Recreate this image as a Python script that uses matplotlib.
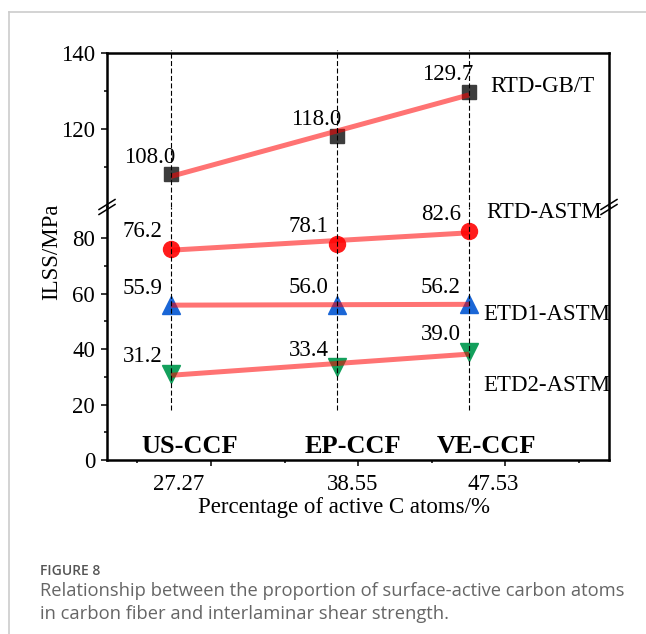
import matplotlib.pyplot as plt
import numpy as np
from matplotlib.lines import Line2D

# data
pct = [27.27, 38.55, 47.53]
samples = ['US-CCF', 'EP-CCF', 'VE-CCF']
rtd_gbt = [108.0, 118.0, 129.7]
rtd_astm = [76.2, 78.1, 82.6]
etd1_astm = [55.9, 56.0, 56.2]
etd2_astm = [31.2, 33.4, 39.0]
names = ['RTD-GB/T', 'RTD-ASTM', 'ETD1-ASTM', 'ETD2-ASTM']

plt.rcParams['font.family'] = 'Liberation Serif'

W, H = 646, 634
fig = plt.figure(figsize=(W / 100, H / 100), dpi=100)


def fx(px):
    return px / W


def fy(py):
    return 1 - py / H


# broken y axis: two stacked axes, no gap
x0, x1 = 107, 609
y_top, y_brk, y_bot = 53, 207, 460
ax_t = fig.add_axes([fx(x0), fy(y_brk), (x1 - x0) / W, (y_brk - y_top) / H])
ax_b = fig.add_axes([fx(x0), fy(y_bot), (x1 - x0) / W, (y_bot - y_brk) / H])

for ax in (ax_t, ax_b):
    ax.set_xlim(22.93, 57.05)
    for s in ax.spines.values():
        s.set_linewidth(1.8)
    ax.tick_params(which='both', direction='out', width=1.1, labelsize=16.5, pad=4)
    ax.tick_params(which='major', length=4.5)
    ax.tick_params(which='minor', length=2.5)
    ax.tick_params(axis='y', which='both', right=False)

ax_t.set_ylim(99.3, 140)
ax_t.spines['bottom'].set_visible(False)
ax_t.set_yticks([120, 140])
ax_t.set_yticks([110, 130], minor=True)
ax_t.tick_params(axis='x', which='both', bottom=False, top=False, labelbottom=False)

ax_b.set_ylim(0, 91.3)
ax_b.spines['top'].set_visible(False)
ax_b.set_yticks([0, 20, 40, 60, 80])
ax_b.set_yticks([10, 30, 50, 70], minor=True)
ax_b.set_xticks([30, 40, 50])
ax_b.set_xticks([25, 35, 45, 55], minor=True)
ax_b.set_xticklabels([])
ax_b.tick_params(axis='x', which='both', top=False)

# series styles: values, marker, colour, size, axes, value-label dx, name offset
series = [
    (rtd_gbt, 's', '#3d3d3d', 10, ax_t, 4, (21, 5)),
    (rtd_astm, 'o', '#ff1c1c', 11.5, ax_b, -8, (17, 19)),
    (etd1_astm, '^', '#1a66d6', 13.5, ax_b, -8, (14, -10)),
    (etd2_astm, 'v', '#13a05c', 13.5, ax_b, -8, (14, -34)),
]

for (vals, mk, col, ms, ax, ldx, noff), name in zip(series, names):
    ax.plot(pct, vals, ls='none', marker=mk, ms=ms, color=col, mec=col, zorder=3)
    coef = np.polyfit(pct, vals, 1)
    xs = np.array([pct[0], pct[-1]])
    ax.plot(xs, np.polyval(coef, xs), color='red', alpha=0.55, lw=3.6,
            solid_capstyle='butt', zorder=4)
    for p, v in zip(pct, vals):
        ax.annotate(f'{v:.1f}', (p, v), xytext=(ldx, 17), textcoords='offset pixels',
                    ha='right', va='center', fontsize=16.5, zorder=6)
    ax.annotate(name, (pct[-1], vals[-1]), xytext=noff, textcoords='offset pixels',
                ha='left', va='center', fontsize=16.5, zorder=6)

# dashed guide lines at each sample
dash = (0, (4.5, 2.2))
for p in pct:
    ax_t.plot([p, p], [99.3, 140.8], color='k', lw=0.8, ls=dash, zorder=5, clip_on=False)
    ax_b.plot([p, p], [18, 91.3], color='k', lw=0.8, ls=dash, zorder=5)

# sample names and percentage labels
name_shift = [1.29, 1.09, 1.22]
pct_shift = [0.5, 1.05, 1.65]
for p, s, ns, ps in zip(pct, samples, name_shift, pct_shift):
    ax_b.text(p + ns, 4.8, s, ha='center', va='center', fontsize=19, fontweight='bold')
    ax_b.annotate(f'{p:.2f}', (p + ps, 0), xycoords=('data', 'axes fraction'),
                  xytext=(0, -25), textcoords='offset pixels',
                  ha='center', va='center', fontsize=16.5)

fig.text(fx(344), fy(507), 'Percentage of active C atoms/%', ha='center', va='center',
         fontsize=16.5)
fig.text(fx(52), fy(252), 'ILSS/MPa', rotation=90, ha='center', va='center', fontsize=16.5)

# break marks on both side spines
for xp in (x0, x1):
    for d in (-2.5, 2.5):
        fig.add_artist(Line2D([fx(xp - 8), fx(xp + 8)], [fy(y_brk + d + 5), fy(y_brk + d - 5)],
                              color='k', lw=1.1))

# light frame of the figure panel
fig.add_artist(Line2D([fx(9), 1], [fy(12), fy(12)], color='#cccccc', lw=1.2))
fig.add_artist(Line2D([fx(9), fx(9)], [fy(12), 0], color='#cccccc', lw=1.2))

# caption
fig.text(fx(40), fy(571), 'FIGURE 8', fontsize=10, color='#555555', family='Open Sans',
         fontweight='semibold', va='center')
fig.text(fx(40), fy(591), 'Relationship between the proportion of surface-active carbon atoms',
         fontsize=13.2, color='#666666', family='Open Sans', va='center')
fig.text(fx(40), fy(614), 'in carbon fiber and interlaminar shear strength.',
         fontsize=13.2, color='#666666', family='Open Sans', va='center')

fig.savefig('out.png', dpi=100)
